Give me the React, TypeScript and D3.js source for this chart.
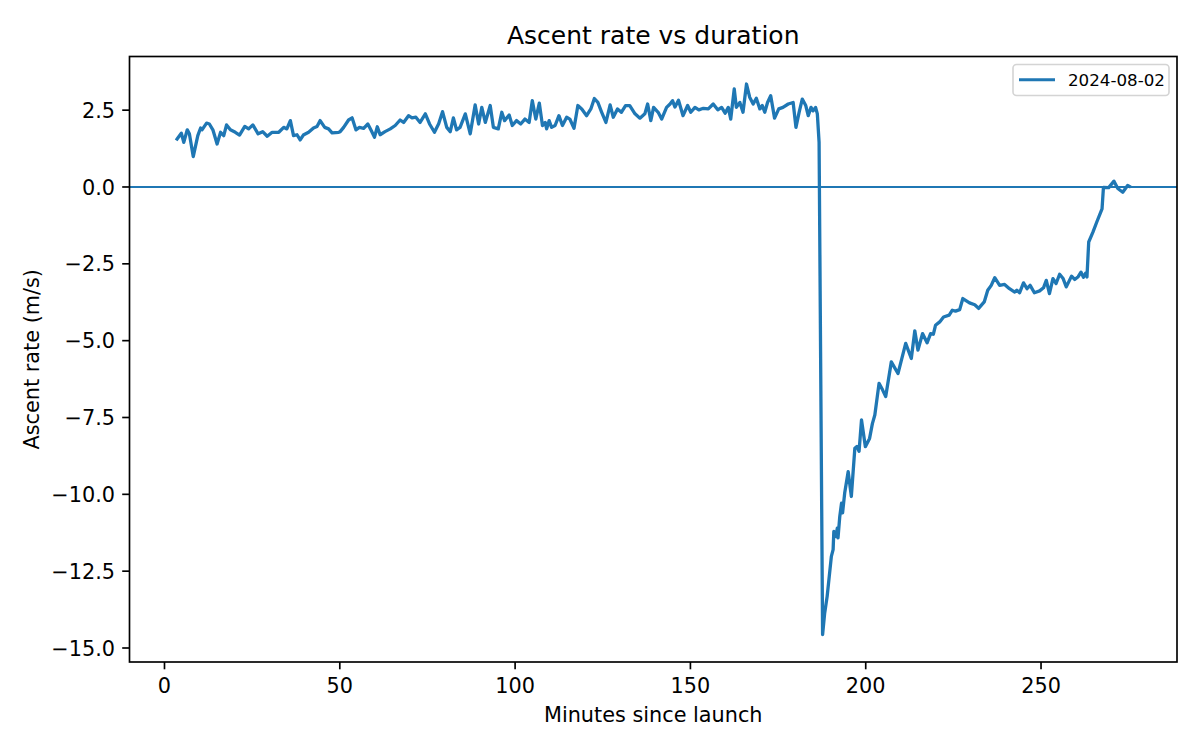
import React from "react";
import * as d3 from "d3";

const minutes: number[] = [
  3.6, 4.8, 5.5, 6.5, 7.1, 8.2, 9.5, 10.3, 10.7, 12.0, 12.8, 13.8, 15.0, 16.0, 16.9, 17.7, 18.8, 20.2, 21.4, 22.9,
  24.0, 25.2, 26.7, 28.0, 29.3, 30.7, 32.6, 34.0, 34.9, 35.9, 36.8, 37.8, 38.7, 39.6, 41.1, 42.5, 43.5, 44.4, 45.7, 46.8,
  47.8, 49.7,
  50.1, 51.1, 52.5, 53.5, 54.6, 55.6, 56.8, 58.0, 59.0, 59.9, 60.7, 61.5, 62.9, 64.4, 65.8, 67.2, 68.2, 69.6, 70.6, 71.7,
  72.9, 74.4, 75.6, 77.0, 78.2, 79.3, 80.5, 81.5, 82.4, 83.3, 84.3, 85.8, 87.2, 88.6, 89.6, 90.5, 91.5, 92.9, 93.8, 95.2,
  96.2, 97.0,
  98.3, 99.2, 100.4, 101.6, 102.8, 104.0, 104.9, 105.9, 106.9, 107.8, 108.6, 109.0, 109.7, 110.4, 111.4, 112.5, 113.5,
  114.7, 115.6, 116.8, 117.9, 119.0, 120.4, 121.6, 122.6, 123.6, 124.7, 125.9, 127.1, 128.0, 129.2, 130.3, 131.5, 132.7,
  134.2, 135.6, 137.0, 137.8, 138.7, 139.5, 140.8, 141.8, 143.2, 144.2, 144.9,
  145.6, 146.6, 147.9, 149.2, 150.1, 151.3, 152.4, 153.7, 155.1, 156.5, 157.8, 158.9, 159.9, 160.8, 161.5, 162.5, 163.1,
  164.1, 165.0, 166.0, 166.9, 167.9, 168.8, 169.8, 170.5, 171.2, 172.0, 172.9, 174.0, 175.2, 176.4, 177.9, 179.3, 180.1,
  181.0, 181.9, 182.9, 183.6, 184.4, 185.0, 185.7, 186.2, 186.7,
  187.7, 188.3, 189.0, 189.6, 190.2, 190.7, 190.9, 191.5, 191.9, 192.1, 192.6, 193.1, 193.4, 194.0, 195.0, 195.9, 196.9,
  197.5, 198.1, 198.8, 199.9, 201.1, 201.9, 202.6, 203.8, 204.8, 205.7, 207.3, 209.2, 211.4, 213.0, 214.0, 214.9, 216.2,
  217.5, 218.5, 219.3, 219.9, 221.1, 222.2, 223.8, 224.7, 225.6, 226.8, 227.7, 229.6, 231.1, 232.2, 233.8, 234.8, 235.8,
  236.8, 238.2, 239.6, 241.0, 242.5, 243.1, 243.9, 245.0, 246.0, 246.9, 248.1, 249.6, 250.7, 251.5, 252.4, 253.4, 254.3,
  255.3, 256.3, 257.2, 258.7, 259.6, 260.6, 261.4, 262.1, 262.7, 263.1, 263.6, 264.8, 265.9, 267.4, 267.8, 269.3, 270.8,
  271.9, 273.3, 274.7, 275.2,
];

const ascentRate: number[] = [
  1.56, 1.75, 1.45, 1.86, 1.73, 0.99, 1.67, 1.92, 1.86, 2.08, 2.05, 1.86, 1.4, 1.78, 1.67, 2.02, 1.86, 1.78, 1.69, 1.97,
  1.89, 2.02, 1.73, 1.8, 1.65, 1.78, 1.78, 1.94, 1.89, 2.16, 1.67, 1.7, 1.53, 1.69, 1.78, 1.92, 1.97, 2.16, 1.94, 1.89,
  1.76, 1.78,
  1.8, 1.94, 2.18, 2.25, 1.86, 1.94, 1.91, 2.05, 1.83, 1.62, 1.96, 1.7, 1.8, 1.89, 2.0, 2.18, 2.1, 2.32, 2.25, 2.27,
  2.1, 2.38, 2.05, 1.78, 2.06, 2.45, 1.94, 1.8, 2.25, 1.86, 1.94, 2.38, 1.73, 2.67, 2.05, 2.59, 2.1, 2.65, 1.94, 1.89,
  2.43, 2.16,
  2.34, 2.0, 2.16, 2.05, 2.21, 2.1, 2.81, 2.21, 2.73, 2.0, 2.1, 1.89, 2.16, 1.94, 2.0, 2.32, 2.0,
  2.27, 2.21, 1.91, 2.65, 2.54, 2.32, 2.54, 2.88, 2.75, 2.43, 2.1, 2.67, 2.27, 2.54, 2.43, 2.65, 2.65,
  2.38, 2.24, 2.38, 2.7, 2.16, 2.59, 2.43, 2.21, 2.59, 2.7, 2.81,
  2.6, 2.82, 2.32, 2.65, 2.43, 2.59, 2.51, 2.56, 2.54, 2.7, 2.51, 2.59, 2.4, 2.59, 2.21, 3.19, 2.59,
  2.75, 2.43, 3.35, 2.92, 2.7, 2.89, 2.54, 2.65, 2.43, 2.75, 2.97, 2.24, 2.54, 2.59, 2.7, 2.75, 1.94,
  2.43, 2.86, 2.65, 2.32, 2.59, 2.48, 2.59, 2.38, 1.45,
  -14.56, -13.86, -13.32, -12.67, -12.02, -11.8, -11.21, -11.37, -11.1, -11.42, -10.72, -10.29, -10.6, -9.96, -9.26,
  -10.07, -8.5, -8.44, -8.6, -7.58, -8.45, -8.18, -7.7, -7.42, -6.39, -6.6, -6.82, -5.69, -6.07, -5.09, -5.58, -4.68,
  -5.31, -4.77, -5.07, -4.77, -4.79, -4.5, -4.39, -4.23, -4.17, -4.01, -4.04, -3.99, -3.63, -3.77, -3.83, -3.95, -3.74,
  -3.36, -3.2, -2.95, -3.2, -3.17, -3.31, -3.42, -3.36, -3.44, -3.12, -3.31, -3.2, -3.44, -3.38, -3.28, -3.04, -3.47,
  -2.98, -3.14, -2.84, -2.98, -3.25, -2.9, -3.01, -2.92, -2.77, -2.94, -2.81, -2.93, -1.79, -1.47, -1.14, -0.71, -0.01,
  -0.02, 0.19, -0.05, -0.17, 0.05, 0.02,
];

const xTicks: number[] = [0, 50, 100, 150, 200, 250];
const yTicks: number[] = [2.5, 0, -2.5, -5, -7.5, -10, -12.5, -15];
const seriesLabel = "2024-08-02";
const titleText = "Ascent rate vs duration";
const xLabelText = "Minutes since launch";
const yLabelText = "Ascent rate (m/s)";

const W = 1200;
const H = 750;
const L = 129.5;
const R = 1177;
const T = 56.5;
const B = 662;
const BLUE = "#1f77b4";
const FONT = "DejaVu Sans, sans-serif";

export default function App() {
  const xExt = d3.extent(minutes) as [number, number];
  const yExt = d3.extent(ascentRate) as [number, number];
  const xm = (xExt[1] - xExt[0]) * 0.05;
  const ym = (yExt[1] - yExt[0]) * 0.05;
  const x = d3.scaleLinear().domain([xExt[0] - xm, xExt[1] + xm]).range([L, R]);
  const y = d3.scaleLinear().domain([yExt[0] - ym, yExt[1] + ym]).range([B, T]);

  const pts: [number, number][] = minutes.map((m, i) => [m, ascentRate[i]]);
  const line = d3
    .line<[number, number]>()
    .x((d) => x(d[0]))
    .y((d) => y(d[1]));

  const fmtY = (v: number) => {
    const s = v.toFixed(1);
    return v < 0 ? "\u2212" + s.slice(1) : s;
  };

  return (
    <svg
      width={W}
      height={H}
      style={{ position: "absolute", left: 0, top: 0, background: "#fff" }}
      fontFamily={FONT}
    >
      <rect x={0} y={0} width={W} height={H} fill="#fff" />
      <defs>
        <clipPath id="plotclip">
          <rect x={L} y={T} width={R - L} height={B - T} />
        </clipPath>
      </defs>
      <g clipPath="url(#plotclip)">
        <path
          d={line(pts) || ""}
          fill="none"
          stroke={BLUE}
          strokeWidth={3.3}
          strokeLinejoin="round"
          strokeLinecap="square"
        />
        <line x1={L} x2={R} y1={y(0)} y2={y(0)} stroke={BLUE} strokeWidth={2.08} />
      </g>

      {/* spines */}
      <rect x={L} y={T} width={R - L} height={B - T} fill="none" stroke="#000" strokeWidth={1.67} />

      {/* x ticks */}
      {xTicks.map((t) => (
        <g key={"x" + t}>
          <line x1={x(t)} x2={x(t)} y1={B} y2={B + 7.3} stroke="#000" strokeWidth={1.67} />
          <text x={x(t)} y={693} fontSize={20.8} textAnchor="middle" fill="#000">
            {String(t)}
          </text>
        </g>
      ))}
      {/* y ticks */}
      {yTicks.map((t) => (
        <g key={"y" + t}>
          <line x1={L - 7.3} x2={L} y1={y(t)} y2={y(t)} stroke="#000" strokeWidth={1.67} />
          <text x={115} y={y(t) + 7.6} fontSize={20.8} textAnchor="end" fill="#000">
            {fmtY(t)}
          </text>
        </g>
      ))}

      {/* labels */}
      <text x={(L + R) / 2} y={44} fontSize={25} textAnchor="middle" fill="#000">
        {titleText}
      </text>
      <text x={(L + R) / 2} y={721.5} fontSize={20.8} textAnchor="middle" fill="#000">
        {xLabelText}
      </text>
      <text
        transform={`translate(39, ${(T + B) / 2}) rotate(-90)`}
        fontSize={20.8}
        textAnchor="middle"
        fill="#000"
      >
        {yLabelText}
      </text>

      {/* legend */}
      <g>
        <rect
          x={1013}
          y={64.5}
          width={156}
          height={31}
          rx={3.5}
          fill="#fff"
          fillOpacity={0.8}
          stroke="#d4d4d4"
          strokeWidth={1.6}
        />
        <line x1={1019} x2={1055} y1={79.8} y2={79.8} stroke={BLUE} strokeWidth={3.1} />
        <text x={1068} y={86} fontSize={16.7} fill="#000">
          {seriesLabel}
        </text>
      </g>
    </svg>
  );
}
